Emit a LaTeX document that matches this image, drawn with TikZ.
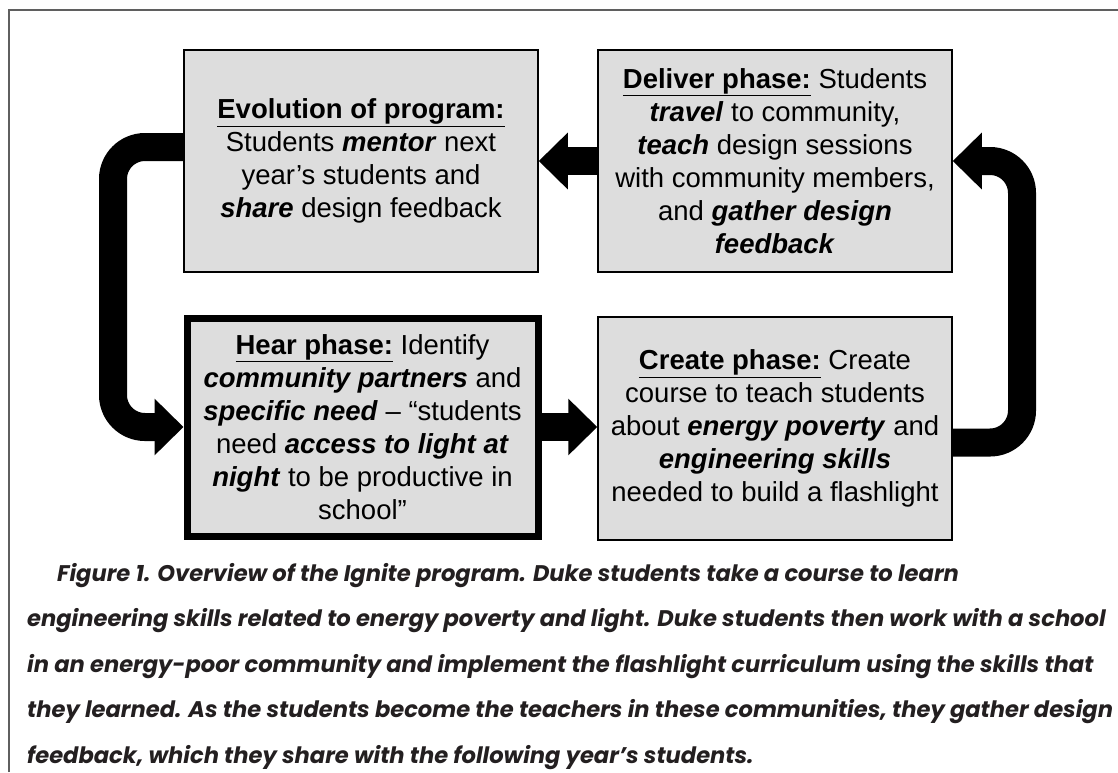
\documentclass[tikz,border=0pt]{standalone}
\usepackage{fontspec}
\setmainfont{Liberation Sans}
\newfontfamily\capfont{Poppins}
\usetikzlibrary{arrows.meta}

\definecolor{boxgray}{RGB}{221,221,221}
\definecolor{capgray}{RGB}{35,31,32}
\definecolor{framegray}{RGB}{95,95,95}

\newcommand{\key}[1]{\textbf{\textit{#1}}}
\newcommand{\phasehead}[1]{\underline{\textbf{#1}}}

\tikzset{
  phase/.style={draw, line width=1.5pt, fill=boxgray, align=center,
    minimum width=354pt, minimum height=222pt, inner sep=0pt,
    font=\fontsize{27.5}{33}\selectfont},
  fat/.style={line width=28pt, -{Triangle[width=55pt,length=29pt]}},
  capline/.style={anchor=base west, inner sep=0pt, text=capgray,
    font=\capfont\bfseries\itshape\fontsize{22.6}{26}\selectfont}
}

\begin{document}
\begin{tikzpicture}[x=1pt,y=-1pt]
  \useasboundingbox (0,0) rectangle (1118,772);
  %frame
  \draw[framegray, line width=1.5pt] (9,772) -- (9,10) -- (1118,10);

  %the four phases
  \node[phase] (evol) at (361,161)
    {\phasehead{Evolution of program:}\\
     Students \key{mentor} next\\
     year’s students and\\
     \key{share} design feedback};
  \node[phase] (deliver) at (775,161)
    {\phasehead{Deliver phase:} Students\\
     \key{travel} to community,\\
     \key{teach} design sessions\\
     with community members,\\
     and \key{gather design}\\
     \key{feedback}};
  \node[phase, line width=7pt, minimum width=351pt, minimum height=218pt]
    (hear) at (362.5,427)
    {\phasehead{Hear phase:} Identify\\
     \key{community partners} and\\
     \key{specific need} – “students\\
     need \key{access to light at}\\
     \key{night} to be productive in\\
     school”};
  \node[phase, minimum height=223pt] (create) at (775,428.5)
    {\phasehead{Create phase:} Create\\
     course to teach students\\
     about \key{energy poverty} and\\
     \key{engineering skills}\\
     needed to build a flashlight};

  %arrows between the phases
  \draw[fat] (deliver) -- (evol);
  \draw[fat] (hear.east) -- (hear.east -| create.west);
  \draw[fat, rounded corners=32pt] ([yshift=14pt]evol.west) -- (113,147)
        -- (113,427) -- (hear.west);
  \draw[fat, rounded corners=32pt] ([yshift=-14pt]create.east) -- (1022,442.5)
        -- (1022,161) -- (deliver.east);

  %caption
  \node[capline] (cap1) at (57,581)
    {Figure 1. Overview of the Ignite program. Duke students take a course to learn};
  \node[capline] (cap2) at (27,626.5)
    {engineering skills related to energy poverty and light. Duke students then work with a school};
  \node[capline] (cap3) at (27,672)
    {in an energy-poor community and implement the flashlight curriculum using the skills that};
  \node[capline] (cap4) at (27,717.5)
    {they learned. As the students become the teachers in these communities, they gather design};
  \node[capline] (cap5) at (27,763)
    {feedback, which they share with the following year’s students.};
\end{tikzpicture}
\end{document}
